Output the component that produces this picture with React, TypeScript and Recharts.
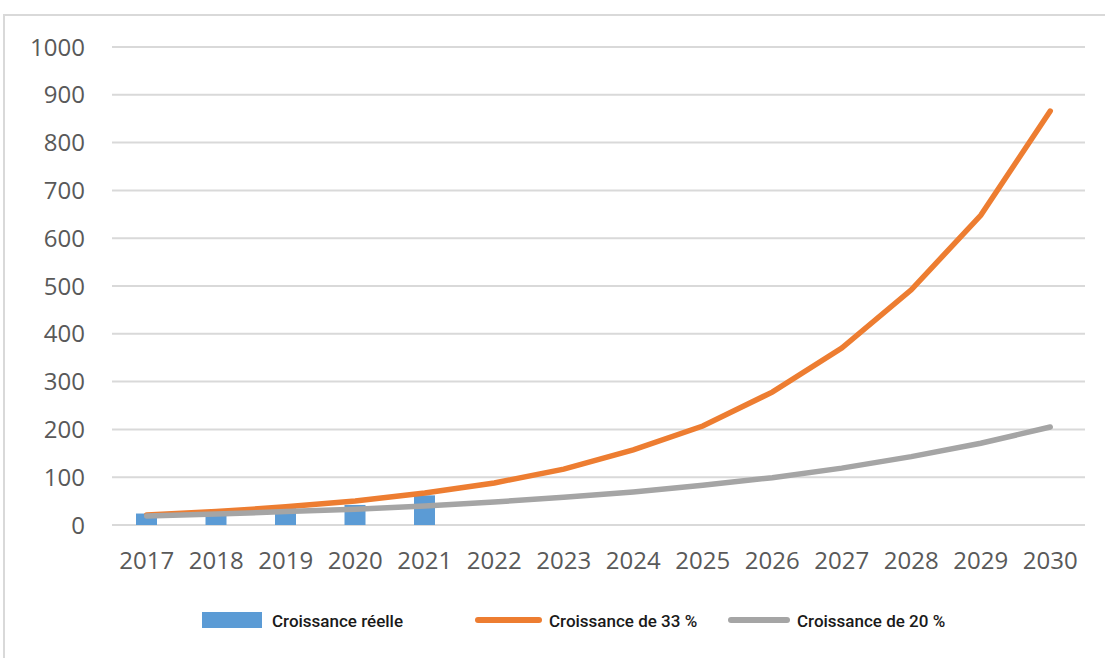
import { ComposedChart, Bar, Line, XAxis, YAxis, CartesianGrid, Legend } from 'recharts';

const years = ['2017', '2018', '2019', '2020', '2021', '2022', '2023', '2024', '2025', '2026', '2027', '2028', '2029', '2030'];
const reelle = [24, 28, 35, 42, 62, null, null, null, null, null, null, null, null, null];
const growth33 = [21, 28, 38, 50, 67, 88, 117, 157, 207, 278, 370, 492, 648, 866];
const growth20 = [19, 23, 28, 33, 40, 48, 58, 69, 83, 99, 119, 143, 171, 205];
const yTicks = [0, 100, 200, 300, 400, 500, 600, 700, 800, 900, 1000];

const BLUE = '#5b9bd5';
const ORANGE = '#ed7d31';
const GRAY = '#a5a5a5';

const data = years.map((y, i) => ({
  year: y,
  reelle: reelle[i],
  g33: growth33[i],
  g20: growth20[i],
}));

const tickStyle = { fontSize: 24, fill: '#595959', fontFamily: 'Open Sans' };

// legend drawn by hand so the spacing matches the Excel layout
const LegendRow = () => {
  const label = { position: 'absolute' as const, top: 11, fontFamily: 'Roboto', fontWeight: 500, fontSize: 17, color: '#1a1a1a', whiteSpace: 'nowrap' as const };
  return (
    <div style={{ position: 'relative', height: 40, width: 1100 }}>
      <div style={{ position: 'absolute', left: 197, top: 12, width: 60, height: 16, background: BLUE }} />
      <span style={{ ...label, left: 267 }}>Croissance réelle</span>
      <div style={{ position: 'absolute', left: 470, top: 17, width: 67, height: 6, borderRadius: 3, background: ORANGE }} />
      <span style={{ ...label, left: 544 }}>Croissance de 33 %</span>
      <div style={{ position: 'absolute', left: 723, top: 17, width: 62, height: 6, borderRadius: 3, background: GRAY }} />
      <span style={{ ...label, left: 792 }}>Croissance de 20 %</span>
    </div>
  );
};

export default function App() {
  return (
    <div
      style={{
        position: 'absolute',
        left: 3,
        top: 14,
        width: 1120,
        height: 660,
        borderTop: '2px solid #d9d9d9',
        borderLeft: '2px solid #d9d9d9',
        background: '#fff',
      }}
    >
      <ComposedChart width={1100} height={650} data={data} margin={{ top: 31, right: 20, left: 0, bottom: 26 }}>
        <CartesianGrid vertical={false} stroke="#d9d9d9" strokeWidth={2} />
        <XAxis
          dataKey="year"
          axisLine={false}
          tickLine={false}
          tickSize={0}
          tickMargin={27}
          height={75}
          tick={tickStyle}
          interval={0}
        />
        <YAxis
          domain={[0, 1000]}
          ticks={yTicks}
          axisLine={false}
          tickLine={false}
          tickSize={0}
          tickMargin={27}
          width={107}
          tick={tickStyle}
        />
        <Legend verticalAlign="bottom" content={() => <LegendRow />} />
        <Bar dataKey="reelle" name="Croissance réelle" fill={BLUE} barSize={21} isAnimationActive={false} />
        <Line
          type="linear"
          dataKey="g33"
          name="Croissance de 33 %"
          stroke={ORANGE}
          strokeWidth={5.5}
          strokeLinecap="round"
          dot={false}
          isAnimationActive={false}
        />
        <Line
          type="linear"
          dataKey="g20"
          name="Croissance de 20 %"
          stroke={GRAY}
          strokeWidth={5.5}
          strokeLinecap="round"
          dot={false}
          isAnimationActive={false}
        />
      </ComposedChart>
    </div>
  );
}
